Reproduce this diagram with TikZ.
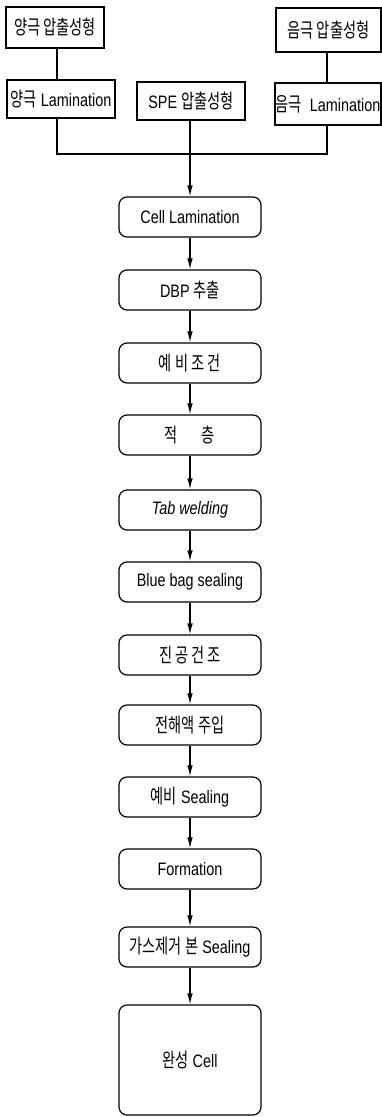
\documentclass[tikz,border=0pt]{standalone}
\usepackage{fontspec}
\setmainfont{Liberation Sans}[FakeStretch=0.8]
\newfontfamily\kr{Noto Sans CJK KR}[Scale=1.1,FakeStretch=0.72]
\usetikzlibrary{arrows.meta}
\begin{document}
\begin{tikzpicture}[x=1pt,y=-1pt,
  every node/.style={font=\fontsize{18}{20}\selectfont, inner sep=0pt, align=center},
  sqbox/.style={draw, line width=1.2pt},
  stepbox/.style={draw, line width=1.2pt, rounded corners=8pt, minimum width=142pt, minimum height=40pt},
  link/.style={line width=1.2pt},
  arr/.style={line width=1.2pt, -{Latex[length=11pt,width=5.5pt]}}]
\path[use as bounding box, fill=white] (0,0) rectangle (382,1117);
% top row
\node[sqbox, minimum width=98pt, minimum height=41pt] (tl) at (55,27.5) {{\kr 양극 압출성형}};
\node[sqbox, minimum width=105pt, minimum height=44pt] (tr) at (328.5,30) {{\kr 음극 압출성형}};
\node[sqbox, minimum width=108pt, minimum height=38pt] (ll) at (61,99) {{\kr 양극} Lamination};
\node[sqbox, minimum width=108pt, minimum height=38pt] (spe) at (191,101) {SPE {\kr 압출성형}};
\node[sqbox, minimum width=106pt, minimum height=42pt] (rl) at (328,104) {{\kr 음극}\ \ Lamination};
% main chain
\node[stepbox] (s1) at (190,217) {Cell Lamination};
\node[stepbox] (s2) at (190,290) {DBP {\kr 추출}};
\node[stepbox] (s3) at (190,363) {{\kr 예 비 조 건}};
\node[stepbox] (s4) at (190,435) {{\kr 적\hspace{24pt}층}};
\node[stepbox] (s5) at (190,510) {\itshape Tab welding};
\node[stepbox] (s6) at (190,582) {Blue bag sealing};
\node[stepbox] (s7) at (190,655) {{\kr 진\kern3pt 공\kern3pt 건\kern3pt 조}};
\node[stepbox] (s8) at (190,725) {{\kr 전해액 주입}};
\node[stepbox] (s9) at (190,797) {{\kr 예비} Sealing};
\node[stepbox] (s10) at (190,869) {Formation};
\node[stepbox] (s11) at (190,947) {{\kr 가스제거 본} Sealing};
\node[stepbox, minimum height=110pt] (s12) at (190,1060) {{\kr 완성} Cell};
% connectors top
\coordinate (jl) at (57,154);
\coordinate (jr) at (327,154);
\draw[link] (tl.south -| jl) -- (ll.north -| jl);
\draw[link] (tr.south -| jr) -- (rl.north -| jr);
\draw[link] (ll.south -| jl) -- (jl) -- (jr) -- (rl.south -| jr);
\draw[arr] (spe.south -| s1.north) -- (s1.north);
% chain arrows
\foreach \a/\b in {s1/s2,s2/s3,s3/s4,s4/s5,s5/s6,s6/s7,s7/s8,s8/s9,s9/s10,s10/s11,s11/s12}
  \draw[arr] (\a.south) -- (\b.north);
\end{tikzpicture}
\end{document}
